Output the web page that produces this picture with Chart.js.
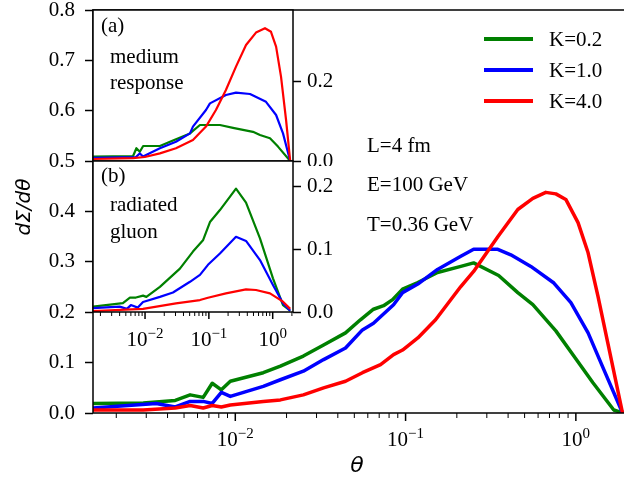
<!DOCTYPE html>
<html>
<head>
<meta charset="utf-8">
<script src="https://cdn.jsdelivr.net/npm/chart.js@4.4.1/dist/chart.umd.min.js"></script>
<style>
  html, body { margin: 0; padding: 0; background: #fff; overflow: hidden; }
  #wrap { position: relative; width: 624px; height: 489px; overflow: hidden; }
  canvas { position: absolute; }
  #mainChart { left: 0; top: 0; }
  #insetA { left: 88px; top: 5px; }
  #insetB { left: 88px; top: 156px; }
</style>
</head>
<body>
<div id="wrap">
  <canvas id="mainChart" width="630" height="489"></canvas>
  <canvas id="insetA" width="250" height="161"></canvas>
  <canvas id="insetB" width="250" height="196"></canvas>
</div>
<script>
// series names and colours
const seriesLabels = ["K=0.2", "K=1.0", "K=4.0"];
const seriesColors = ["#008000", "#0000ff", "#ff0000"];

// main panel, [theta, dSigma/dtheta]
const mainK02 = [[0.00146,0.019],[0.00288,0.020],[0.00444,0.025],[0.00543,0.036],[0.00648,0.031],[0.00732,0.059],[0.00828,0.046],[0.00935,0.063],[0.0146,0.080],[0.0184,0.093],[0.0251,0.113],[0.0330,0.135],[0.0444,0.159],[0.0543,0.185],[0.0648,0.206],[0.0743,0.213],[0.0839,0.225],[0.0960,0.246],[0.118,0.259],[0.154,0.279],[0.211,0.291],[0.251,0.298],[0.352,0.273],[0.456,0.239],[0.559,0.215],[0.763,0.163],[0.973,0.113],[1.26,0.060],[1.67,0.006],[1.88,0]];
const mainK10 = [[0.00146,0.010],[0.00343,0.019],[0.00444,0.012],[0.00543,0.023],[0.00648,0.023],[0.00732,0.019],[0.00828,0.041],[0.00935,0.033],[0.0146,0.053],[0.0184,0.066],[0.0251,0.083],[0.0330,0.106],[0.0444,0.129],[0.0558,0.165],[0.0648,0.178],[0.0850,0.215],[0.0960,0.239],[0.118,0.256],[0.154,0.285],[0.211,0.311],[0.251,0.325],[0.348,0.325],[0.415,0.314],[0.544,0.291],[0.743,0.258],[0.935,0.219],[1.18,0.159],[1.46,0.086],[1.88,0]];
const mainK40 = [[0.00146,0.006],[0.00288,0.006],[0.00444,0.010],[0.00543,0.015],[0.00648,0.010],[0.00732,0.015],[0.00828,0.012],[0.00935,0.016],[0.0146,0.023],[0.0184,0.026],[0.0251,0.036],[0.0330,0.050],[0.0444,0.063],[0.0558,0.080],[0.0713,0.096],[0.0850,0.116],[0.0960,0.125],[0.118,0.149],[0.150,0.185],[0.211,0.251],[0.251,0.281],[0.348,0.350],[0.456,0.404],[0.559,0.426],[0.666,0.438],[0.763,0.435],[0.873,0.424],[1.03,0.378],[1.18,0.318],[1.35,0.231],[1.54,0.139],[1.88,0]];

// inset (a): medium response
const respK02 = [[0.00152,0.011],[0.0065,0.0125],[0.00732,0.032],[0.00828,0.023],[0.00935,0.0375],[0.0171,0.0375],[0.0274,0.051],[0.0506,0.069],[0.0725,0.090],[0.149,0.090],[0.239,0.083],[0.491,0.073],[0.632,0.065],[0.907,0.057],[1.21,0.036],[1.88,0]];
const respK10 = [[0.00152,0.008],[0.0072,0.010],[0.0083,0.019],[0.0093,0.011],[0.0171,0.032],[0.0305,0.048],[0.0506,0.069],[0.0563,0.086],[0.0901,0.1275],[0.104,0.144],[0.185,0.165],[0.266,0.171],[0.441,0.1675],[0.785,0.148],[1.13,0.115],[1.45,0.069],[1.88,0]];
const respK40 = [[0.00152,0.005],[0.0065,0.007],[0.0099,0.010],[0.0171,0.019],[0.0305,0.032],[0.0563,0.0525],[0.0901,0.086],[0.129,0.1275],[0.185,0.1775],[0.266,0.236],[0.382,0.290],[0.547,0.321],[0.757,0.332],[0.940,0.323],[1.13,0.286],[1.35,0.211],[1.62,0.1025],[1.88,0]];

// inset (b): radiated gluon
const gluonK02 = [[0.00152,0.0085],[0.0045,0.014],[0.0058,0.023],[0.0072,0.023],[0.0093,0.026],[0.0105,0.024],[0.0171,0.040],[0.0352,0.069],[0.0563,0.096],[0.0809,0.114],[0.104,0.143],[0.149,0.162],[0.266,0.196],[0.382,0.174],[0.632,0.117],[1.01,0.0535],[1.45,0.011],[1.88,0.002]];
const gluonK10 = [[0.00152,0.006],[0.0040,0.0085],[0.0052,0.005],[0.0060,0.011],[0.0077,0.007],[0.0093,0.016],[0.0171,0.024],[0.0274,0.031],[0.0506,0.048],[0.0725,0.059],[0.0968,0.075],[0.149,0.093],[0.266,0.1195],[0.382,0.113],[0.632,0.0825],[1.01,0.043],[1.45,0.014],[1.88,0.002]];
const gluonK40 = [[0.00152,0.0015],[0.0093,0.005],[0.0305,0.0138],[0.0725,0.019],[0.0968,0.0227],[0.185,0.0297],[0.382,0.036],[0.547,0.035],[0.907,0.0297],[1.45,0.0164],[1.88,0.005]];

// ticks
const xMajorTicks = [0.01, 0.1, 1];
const xMajorExponents = ["\u22122", "\u22121", "0"];
const xMinorMultipliers = [2, 3, 4, 5, 6, 7, 8, 9];
const xDecades = [0.001, 0.01, 0.1, 1];
const mainYTicks = [0, 0.1, 0.2, 0.3, 0.4, 0.5, 0.6, 0.7, 0.8];
const respYTicks = [0, 0.2];
const gluonYTicks = [0, 0.1, 0.2];

const notes = ["L=4 fm", "E=100 GeV", "T=0.36 GeV"];

const SERIF = "'Liberation Serif', 'Times New Roman', serif";

function toPoints(arr) {
    return arr.map(p => ({ x: p[0], y: p[1] }));
}

function makeDatasets(list, width) {
    return list.map((arr, i) => ({
        label: seriesLabels[i],
        data: toPoints(arr),
        borderColor: seriesColors[i],
        backgroundColor: seriesColors[i],
        borderWidth: width,
        pointRadius: 0,
        tension: 0,
        borderJoinStyle: "round",
        order: 3 - i
    }));
}

// white box + black frame around the plot area
const framePlugin = {
    id: "frame",
    beforeDatasetsDraw(chart, args, opts) {
        if (!opts.fill) return;
        const a = chart.chartArea;
        const ctx = chart.ctx;
        ctx.save();
        ctx.fillStyle = "#fff";
        ctx.fillRect(a.left, a.top, a.right - a.left, a.bottom - a.top);
        ctx.restore();
    },
    afterDraw(chart) {
        const a = chart.chartArea;
        const ctx = chart.ctx;
        ctx.save();
        ctx.strokeStyle = "#000";
        ctx.lineWidth = 1.5;
        ctx.strokeRect(a.left, a.top, a.right - a.left, a.bottom - a.top);
        ctx.restore();
    }
};

// matplotlib-like log ticks along the bottom
const logTicksPlugin = {
    id: "logTicks",
    afterDraw(chart, args, opts) {
        if (!opts.show) return;
        const s = chart.scales.x;
        const a = chart.chartArea;
        const ctx = chart.ctx;
        ctx.save();
        ctx.strokeStyle = "#000";
        xDecades.forEach(d => {
            [1].concat(xMinorMultipliers).forEach(m => {
                const v = m * d;
                if (v < s.min || v > s.max) return;
                const px = s.getPixelForValue(v);
                ctx.lineWidth = m === 1 ? 1.5 : 1;
                ctx.beginPath();
                ctx.moveTo(px, a.bottom);
                ctx.lineTo(px, a.bottom + (m === 1 ? opts.majorLen : opts.minorLen));
                ctx.stroke();
            });
        });
        ctx.fillStyle = "#000";
        ctx.textBaseline = "alphabetic";
        ctx.textAlign = "left";
        xMajorTicks.forEach((v, i) => {
            const px = s.getPixelForValue(v);
            ctx.font = opts.font + "px " + SERIF;
            const w1 = ctx.measureText("10").width;
            ctx.font = Math.round(opts.font * 0.7) + "px " + SERIF;
            const w2 = ctx.measureText(xMajorExponents[i]).width;
            const x0 = px - (w1 + w2) / 2;
            ctx.font = opts.font + "px " + SERIF;
            ctx.fillText("10", x0, a.bottom + opts.baseline);
            ctx.font = Math.round(opts.font * 0.7) + "px " + SERIF;
            ctx.fillText(xMajorExponents[i], x0 + w1, a.bottom + opts.baseline - opts.font * 0.4);
        });
        ctx.restore();
    }
};

// legend, notes and axis titles for the main panel
const mainTextPlugin = {
    id: "mainText",
    afterDraw(chart) {
        const ctx = chart.ctx;
        ctx.save();
        chart.data.datasets.forEach((ds, i) => {
            const y = 39 + i * 31;
            ctx.strokeStyle = ds.borderColor;
            ctx.lineWidth = 4;
            ctx.beginPath();
            ctx.moveTo(484, y);
            ctx.lineTo(533, y);
            ctx.stroke();
            ctx.fillStyle = "#000";
            ctx.font = "21px " + SERIF;
            ctx.textAlign = "left";
            ctx.textBaseline = "middle";
            ctx.fillText(ds.label, 549, y + 1);
        });
        notes.forEach((t, i) => {
            ctx.fillText(t, 367, 146 + i * 39.5);
        });
        ctx.font = "italic 22px 'DejaVu Sans'";
        ctx.textAlign = "center";
        ctx.fillText("\u03b8", 357, 466);
        ctx.translate(25, 207);
        ctx.rotate(-Math.PI / 2);
        ctx.font = "italic 20px 'DejaVu Sans'";
        ctx.fillText("d\u03a3/d\u03b8", 0, 0);
        ctx.restore();
    }
};

function insetTextPlugin(lines) {
    return {
        id: "insetText",
        afterDraw(chart) {
            const ctx = chart.ctx;
            const a = chart.chartArea;
            ctx.save();
            ctx.fillStyle = "#000";
            ctx.font = "21px " + SERIF;
            ctx.textBaseline = "middle";
            ctx.textAlign = "left";
            lines.forEach(l => ctx.fillText(l[0], a.left + l[1], a.top + l[2]));
            ctx.restore();
        }
    };
}

function yScale(min, max, ticks, position, width, pad) {
    return {
        type: "linear",
        position: position,
        min: min,
        max: max,
        afterBuildTicks: s => { s.ticks = ticks.map(v => ({ value: v })); },
        afterFit: s => {
            s.width = width;
            s.paddingTop = 0;
            s.paddingBottom = 0;
        },
        grid: { display: true, drawOnChartArea: false, drawTicks: true, tickLength: 8, tickColor: "#000", tickWidth: 1.5 },
        border: { display: false },
        ticks: {
            padding: pad,
            color: "#000",
            font: { family: SERIF, size: 21 },
            callback: v => Number(v).toFixed(1)
        }
    };
}

function xScale(min, max) {
    return { type: "logarithmic", display: false, min: min, max: max };
}

Chart.defaults.animation = false;

new Chart(document.getElementById("mainChart"), {
    type: "line",
    data: { datasets: makeDatasets([mainK02, mainK10, mainK40], 3.5) },
    options: {
        responsive: false,
        layout: { autoPadding: false, padding: { top: 10, right: 4, bottom: 76, left: 0 } },
        scales: {
            x: xScale(0.00146, 1.97),
            y: yScale(0, 0.8, mainYTicks, "left", 93, 10)
        },
        plugins: {
            legend: { display: false },
            tooltip: { enabled: false },
            frame: { fill: false },
            logTicks: { show: true, majorLen: 8, minorLen: 5, font: 21, baseline: 33 }
        }
    },
    plugins: [framePlugin, logTicksPlugin, mainTextPlugin]
});

new Chart(document.getElementById("insetA"), {
    type: "line",
    data: { datasets: makeDatasets([respK02, respK10, respK40], 2.2) },
    options: {
        responsive: false,
        layout: { autoPadding: false, padding: { top: 5, right: 0, bottom: 5, left: 5 } },
        scales: {
            x: xScale(0.00153, 2.08),
            y: yScale(0, 0.3775, respYTicks, "right", 45, 6)
        },
        plugins: {
            legend: { display: false },
            tooltip: { enabled: false },
            frame: { fill: true },
            logTicks: { show: false }
        }
    },
    plugins: [framePlugin, logTicksPlugin, insetTextPlugin([["(a)", 8, 16], ["medium", 17, 47], ["response", 17, 73]])]
});

new Chart(document.getElementById("insetB"), {
    type: "line",
    data: { datasets: makeDatasets([gluonK02, gluonK10, gluonK40], 2.2) },
    options: {
        responsive: false,
        layout: { autoPadding: false, padding: { top: 5, right: 0, bottom: 40, left: 5 } },
        scales: {
            x: xScale(0.00153, 2.08),
            y: yScale(0, 0.24, gluonYTicks, "right", 45, 6)
        },
        plugins: {
            legend: { display: false },
            tooltip: { enabled: false },
            frame: { fill: true },
            logTicks: { show: true, majorLen: 7, minorLen: 4, font: 21, baseline: 34 }
        }
    },
    plugins: [framePlugin, logTicksPlugin, insetTextPlugin([["(b)", 8, 15], ["radiated", 17, 44], ["gluon", 17, 71]])]
});
</script>
</body>
</html>
